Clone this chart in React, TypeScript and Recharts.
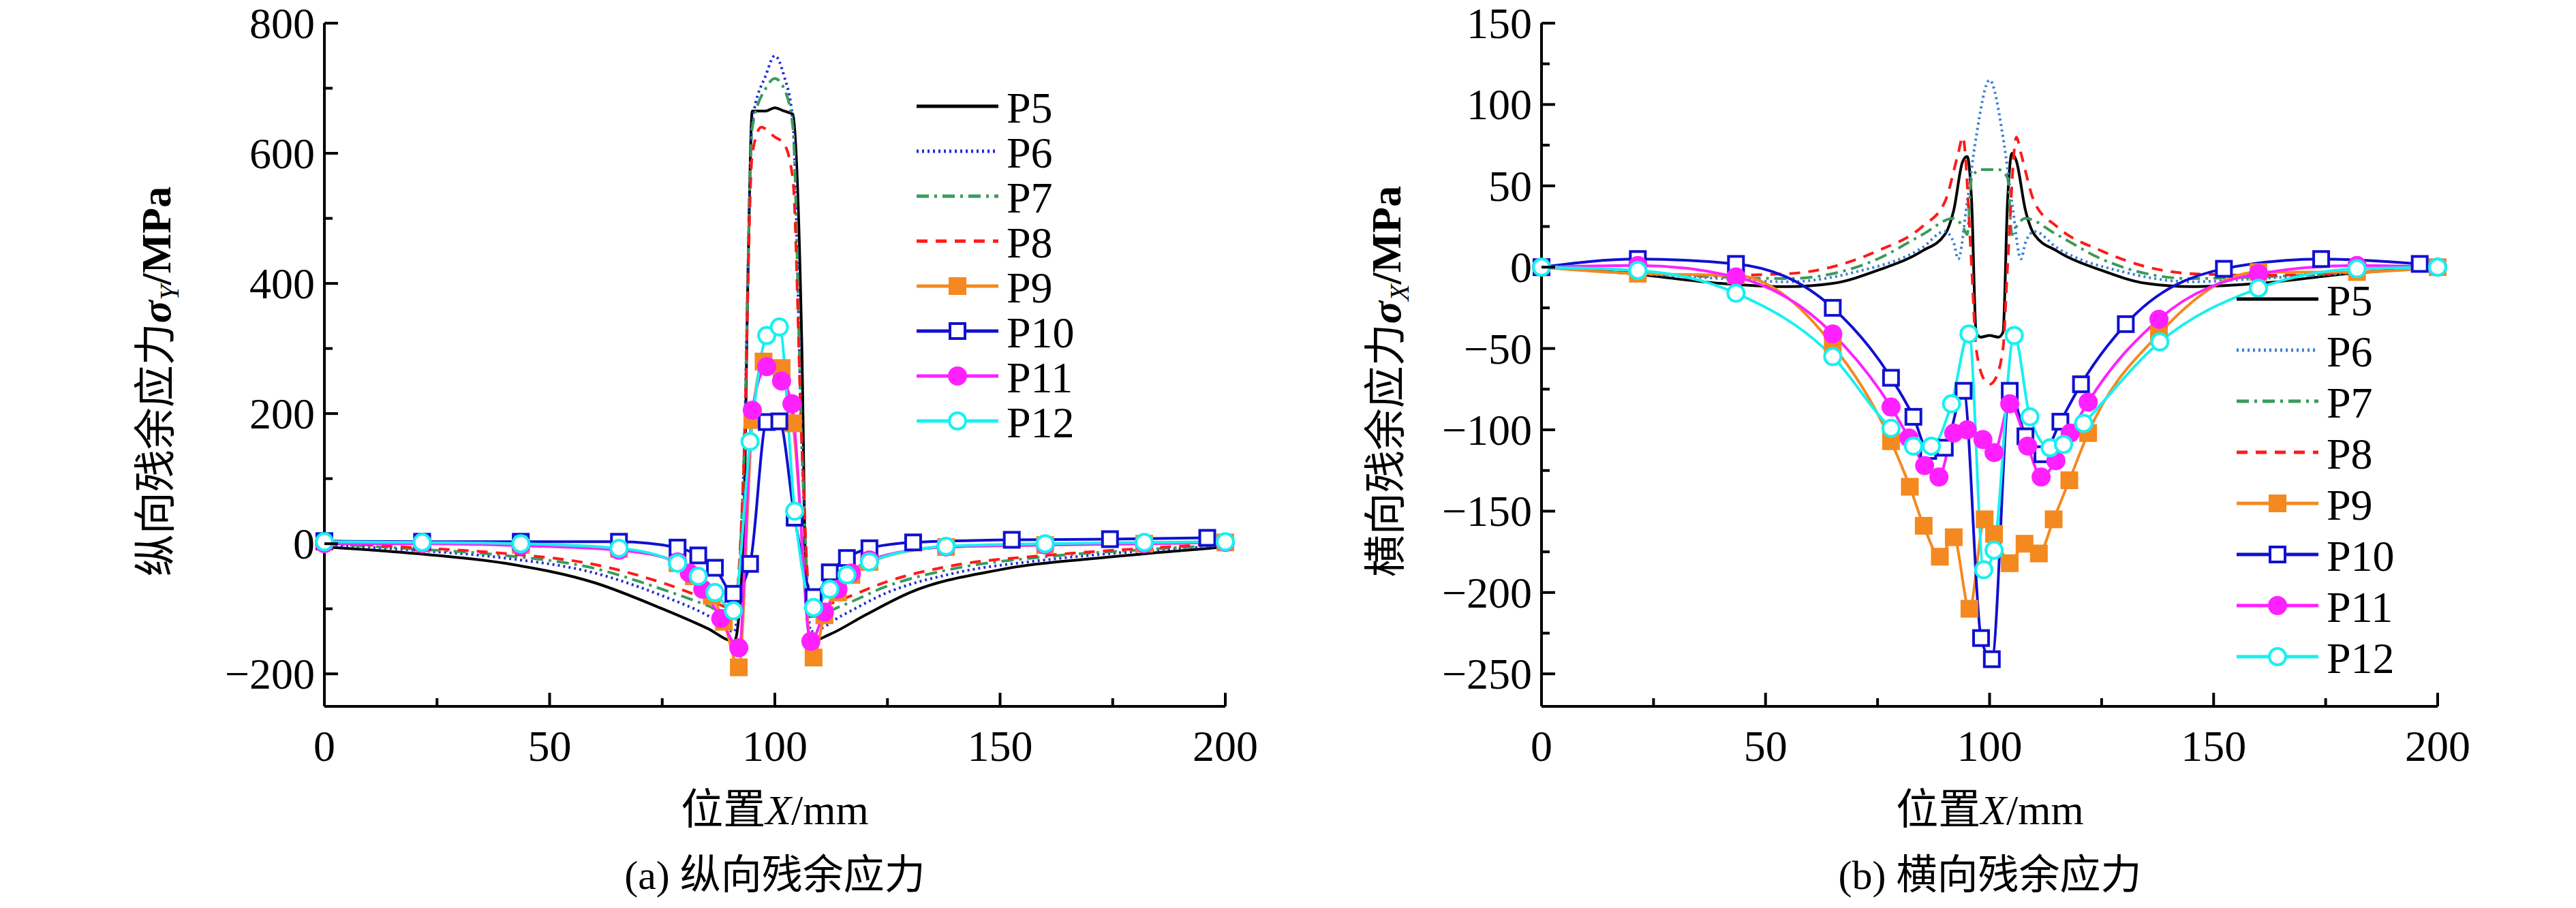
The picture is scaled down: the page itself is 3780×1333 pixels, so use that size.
import React from 'react';
import { LineChart, Line, XAxis, YAxis } from 'recharts';

type Pt = [number, number];

// (a) longitudinal residual stress sigma_Y
const aP5: Pt[] = [[0, -5], [20, -15], [40, -30], [60, -60], [75, -100], [85, -130], [91, -150], [93, 0], [94, 400], [95, 665], [98, 665], [100, 670], [102, 665], [104, 660], [106, 300], [107, -100], [108, -150], [112, -140], [120, -110], [130, -75], [150, -40], [175, -20], [200, -5]];
const aP6: Pt[] = [[0, -2], [20, -10], [40, -22], [60, -45], [75, -80], [85, -110], [91, -135], [93, 100], [95, 650], [98, 720], [100, 750], [102, 720], [104, 650], [106, 150], [108, -135], [115, -110], [125, -75], [140, -45], [160, -25], [180, -12], [200, -3]];
const aP7: Pt[] = [[0, 0], [20, -8], [40, -18], [60, -38], [75, -70], [85, -95], [91, -112], [93, 100], [95, 640], [98, 700], [100, 715], [102, 700], [104, 640], [106, 150], [108, -112], [115, -95], [125, -65], [140, -38], [160, -20], [180, -10], [200, -2]];
const aP8: Pt[] = [[0, 2], [20, -6], [40, -15], [60, -32], [75, -60], [85, -85], [91, -100], [93, 100], [95, 600], [97, 640], [100, 625], [102, 615], [104, 560], [106, 150], [108, -100], [115, -85], [125, -58], [140, -33], [160, -18], [180, -8], [200, 0]];
const aP9: Pt[] = [[0, 3], [21.7, 1], [43.6, -2], [65.4, -8], [78.4, -30], [82, -50], [86, -80], [88.7, -120], [92, -190], [95, 190], [97.5, 280], [101.5, 270], [104, 185], [108.6, -175], [111, -110], [114, -75], [117, -48], [121, -28], [138, -5], [160, -2], [182, 0], [200, 2]];
const aP10: Pt[] = [[0, 4], [21.7, 3], [43.6, 3], [65.4, 3], [78.4, -6], [83, -18], [86.7, -37], [90.8, -77], [94.5, -31], [98.2, 187], [101, 188], [104.4, 40], [108.6, -82], [112.2, -44], [116, -22], [121, -7], [130.7, 2], [152.6, 6], [174.4, 7], [196, 9]];
const aP11: Pt[] = [[0, 0], [21.7, 0], [43.6, -3], [65.4, -10], [78.4, -28], [81, -45], [84, -70], [88, -115], [92, -160], [95, 205], [98.2, 272], [101.5, 250], [103.8, 215], [108, -150], [111, -105], [114, -70], [117, -45], [121, -25], [138, -5], [160, -2], [182, 0], [200, 2]];
const aP12: Pt[] = [[0, 3], [21.7, 2], [43.6, 0], [65.4, -7], [78.4, -30], [83, -50], [86.7, -75], [90.8, -103], [94.5, 157], [98.2, 320], [101, 333], [104.4, 50], [108.6, -98], [112.2, -70], [116, -48], [121, -28], [138, -4], [160, 0], [182, 2], [200, 3]];

// (b) transverse residual stress sigma_X
const bP5: Pt[] = [[0, 0], [20, -4], [40, -10], [55, -12], [65, -10], [75, -2], [85, 10], [90, 20], [92, 35], [94, 65], [95, 68], [96, 40], [97, -40], [98, -43], [100, -42], [102, -43], [103, -40], [104, 40], [105, 70], [106, 65], [108, 35], [110, 20], [115, 10], [125, -2], [135, -10], [145, -12], [160, -10], [180, -4], [200, 0]];
const bP6: Pt[] = [[0, 0], [40, -7], [55, -9], [70, -3], [85, 12], [90, 22], [92, 15], [93, 5], [95, 40], [97, 80], [100, 115], [103, 80], [105, 40], [107, 5], [108, 15], [110, 22], [115, 12], [130, -3], [145, -9], [160, -7], [200, 0]];
const bP7: Pt[] = [[0, 0], [40, -6], [55, -7], [75, 5], [85, 20], [92, 30], [94, 25], [95, 20], [96, 55], [98, 60], [100, 60], [102, 60], [104, 55], [105, 20], [106, 25], [108, 30], [115, 20], [125, 5], [145, -7], [160, -6], [200, 0]];
const bP8: Pt[] = [[0, 0], [40, -5], [55, -4], [75, 10], [85, 25], [90, 40], [93, 70], [94, 80], [96, 0], [97, -50], [99, -70], [100, -72], [101, -70], [103, -50], [104, 0], [106, 80], [107, 70], [110, 40], [115, 25], [125, 10], [145, -4], [160, -5], [200, 0]];
const bP9: Pt[] = [[0, 0], [21.5, -4], [43.4, -5], [65, -48], [78, -107], [82.2, -135], [85.3, -159], [88.9, -178], [92, -166], [95.5, -210], [98.9, -155], [101, -164], [104.5, -182], [107.8, -170], [111, -176], [114.3, -155], [117.8, -131], [122, -102], [137.8, -41], [160, -3], [182, -3], [200, 0]];
const bP10: Pt[] = [[0, 0], [21.5, 5], [43.4, 2], [65, -25], [78, -68], [83, -92], [86.3, -113], [90, -111], [94.2, -76], [98.1, -228], [100.5, -241], [104.5, -76], [108, -104], [111.8, -115], [115.8, -95], [120.4, -72], [130.4, -35], [152.3, -1], [174, 5], [196, 2]];
const bP11: Pt[] = [[0, 0], [21.5, 1], [43.4, -6], [65, -41], [78, -86], [82, -105], [85.5, -122], [88.7, -129], [92, -102], [95, -100], [98.5, -106], [101, -114], [104.5, -84], [108.5, -110], [111.5, -129], [114.8, -119], [118, -102], [122, -83], [137.8, -32], [160, -4], [182, 1], [200, 0]];
const bP12: Pt[] = [[0, 0], [21.5, -2], [43.4, -16], [65, -55], [78, -99], [83, -110], [87, -110], [91.5, -84], [95.4, -41], [98.7, -186], [101, -174], [105.5, -42], [109, -92], [113.5, -111], [116.5, -109], [121, -96], [138, -46], [160, -13], [182, -1], [200, 0]];

const seriesNames = ['P5', 'P6', 'P7', 'P8', 'P9', 'P10', 'P11', 'P12'];
const xTicks = [0, 25, 50, 75, 100, 125, 150, 175, 200];
const xMajors = [0, 50, 100, 150, 200];
const aYTicks = [-200, -100, 0, 100, 200, 300, 400, 500, 600, 700, 800];
const aYMajors = [-200, 0, 200, 400, 600, 800];
const bYTicks = [-250, -225, -200, -175, -150, -125, -100, -75, -50, -25, 0, 25, 50, 75, 100, 125, 150];
const bYMajors = [-250, -200, -150, -100, -50, 0, 50, 100, 150];

const FONT = '"Liberation Serif", "Noto Sans CJK SC", serif';
const TICK_FS = 64;

type Style = { color: string; dash?: string; marker?: 'square' | 'circle'; fill?: string };
const aStyles: Style[] = [
  { color: '#000000' },
  { color: '#1f2bd6', dash: '3 5' },
  { color: '#3a9b5c', dash: '18 8 4 8' },
  { color: '#ff1a1a', dash: '16 12' },
  { color: '#f4891f', marker: 'square', fill: '#f4891f' },
  { color: '#1010d0', marker: 'square', fill: '#ffffff' },
  { color: '#ff20ff', marker: 'circle', fill: '#ff20ff' },
  { color: '#18f0f0', marker: 'circle', fill: '#ffffff' },
];
const bStyles: Style[] = aStyles.map((s, i) => (i === 1 ? { ...s, color: '#3a7fd5' } : s));

const fmt = (v: number) => (v < 0 ? `\u2212${-v}` : `${v}`);

function makeDot(s: Style) {
  return (p: any) => {
    const { cx, cy, index } = p;
    if (cx == null || cy == null) return <g key={index} />;
    if (s.marker === 'square') {
      return <rect key={index} x={cx - 11} y={cy - 11} width={22} height={22} fill={s.fill} stroke={s.color} strokeWidth={4} />;
    }
    return <circle key={index} cx={cx} cy={cy} r={12} fill={s.fill} stroke={s.color} strokeWidth={4} />;
  };
}

function Panel(props: { data: Pt[][]; styles: Style[]; yDomain: [number, number]; yTicks: number[]; yMajors: number[]; left: number; right: number }) {
  const { data, styles, yDomain, yTicks, yMajors, left, right } = props;
  const XTick = (p: any) => {
    const v = p.payload.value;
    const major = xMajors.includes(v);
    return (
      <g>
        <line x1={p.x} x2={p.x} y1={p.y} y2={p.y - (major ? 20 : 12)} stroke="#000" strokeWidth={4} />
        {major && <text x={p.x} y={p.y + 80} textAnchor="middle" fontSize={TICK_FS} fontFamily={FONT}>{fmt(v)}</text>}
      </g>
    );
  };
  const YTick = (p: any) => {
    const v = p.payload.value;
    const major = yMajors.includes(v);
    return (
      <g>
        <line x1={p.x} x2={p.x + (major ? 20 : 12)} y1={p.y} y2={p.y} stroke="#000" strokeWidth={4} />
        {major && <text x={p.x - 14} y={p.y + 22} textAnchor="end" fontSize={TICK_FS} fontFamily={FONT}>{fmt(v)}</text>}
      </g>
    );
  };
  return (
    <LineChart width={1890} height={1333} margin={{ left: left - 150, right, top: 34, bottom: 216 }}>
      <XAxis dataKey="x" type="number" domain={[0, 200]} ticks={xTicks} tick={XTick} tickLine={false} tickSize={0} tickMargin={0} height={80} axisLine={{ stroke: '#000', strokeWidth: 4 }} allowDuplicatedCategory={false} interval={0} />
      <YAxis type="number" domain={yDomain} ticks={yTicks} tick={YTick} tickLine={false} tickSize={0} tickMargin={0} width={150} axisLine={{ stroke: '#000', strokeWidth: 4 }} interval={0} allowDataOverflow />
      {data.map((d, i) => {
        const s = styles[i];
        return (
          <Line
            key={seriesNames[i]}
            data={d.map(([x, y]) => ({ x, y }))}
            dataKey="y"
            type="monotone"
            stroke={s.color}
            strokeWidth={4}
            strokeDasharray={s.dash}
            dot={s.marker ? makeDot(s) : false}
            activeDot={false}
            isAnimationActive={false}
          />
        );
      })}
    </LineChart>
  );
}

function LegendBox({ x, y, step, styles }: { x: number; y: number; step: number; styles: Style[] }) {
  return (
    <g>
      {styles.map((s, i) => {
        const cy = y + i * step;
        return (
          <g key={i}>
            <line x1={x} x2={x + 120} y1={cy} y2={cy} stroke={s.color} strokeWidth={5} strokeDasharray={s.dash} />
            {s.marker === 'square' && <rect x={x + 49} y={cy - 11} width={22} height={22} fill={s.fill} stroke={s.color} strokeWidth={4} />}
            {s.marker === 'circle' && <circle cx={x + 60} cy={cy} r={12} fill={s.fill} stroke={s.color} strokeWidth={4} />}
            <text x={x + 132} y={cy + 24} fontSize={TICK_FS} fontFamily={FONT}>{seriesNames[i]}</text>
          </g>
        );
      })}
    </g>
  );
}

function YTitle({ x, y, text, sub }: { x: number; y: number; text: string; sub: string }) {
  return (
    <text transform={`translate(${x},${y}) rotate(-90)`} textAnchor="middle" fontSize={62} fontFamily={FONT}>
      {text}
      <tspan fontStyle="italic" fontWeight="bold">σ</tspan>
      <tspan fontStyle="italic" fontSize={40} dy={12}>{sub}</tspan>
      <tspan dy={-12} fontWeight="bold">/MPa</tspan>
    </text>
  );
}

export default function App() {
  return (
    <div style={{ position: 'absolute', left: 0, top: 0, width: 3780, height: 1333, background: '#fff' }}>
      <div style={{ position: 'absolute', left: 0, top: 0 }}>
        <Panel data={[aP5, aP6, aP7, aP8, aP9, aP10, aP11, aP12]} styles={aStyles} yDomain={[-250, 800]} yTicks={aYTicks} yMajors={aYMajors} left={476} right={92} />
      </div>
      <div style={{ position: 'absolute', left: 1890, top: 0 }}>
        <Panel data={[bP5, bP6, bP7, bP8, bP9, bP10, bP11, bP12]} styles={bStyles} yDomain={[-270, 150]} yTicks={bYTicks} yMajors={bYMajors} left={372} right={203} />
      </div>
      <svg width={3780} height={1333} style={{ position: 'absolute', left: 0, top: 0, pointerEvents: 'none' }}>
        <LegendBox x={1345} y={156} step={66} styles={aStyles} />
        <LegendBox x={3282} y={439} step={75} styles={bStyles} />
        <YTitle x={250} y={560} text="纵向残余应力" sub="Y" />
        <YTitle x={2055} y={560} text="横向残余应力" sub="X" />
        <text x={1137} y={1210} textAnchor="middle" fontSize={62} fontFamily={FONT}>位置<tspan fontStyle="italic">X</tspan>/mm</text>
        <text x={2920} y={1210} textAnchor="middle" fontSize={62} fontFamily={FONT}>位置<tspan fontStyle="italic">X</tspan>/mm</text>
        <text x={1137} y={1305} textAnchor="middle" fontSize={60} fontFamily={FONT}>(a) 纵向残余应力</text>
        <text x={2920} y={1305} textAnchor="middle" fontSize={60} fontFamily={FONT}>(b) 横向残余应力</text>
      </svg>
    </div>
  );
}
